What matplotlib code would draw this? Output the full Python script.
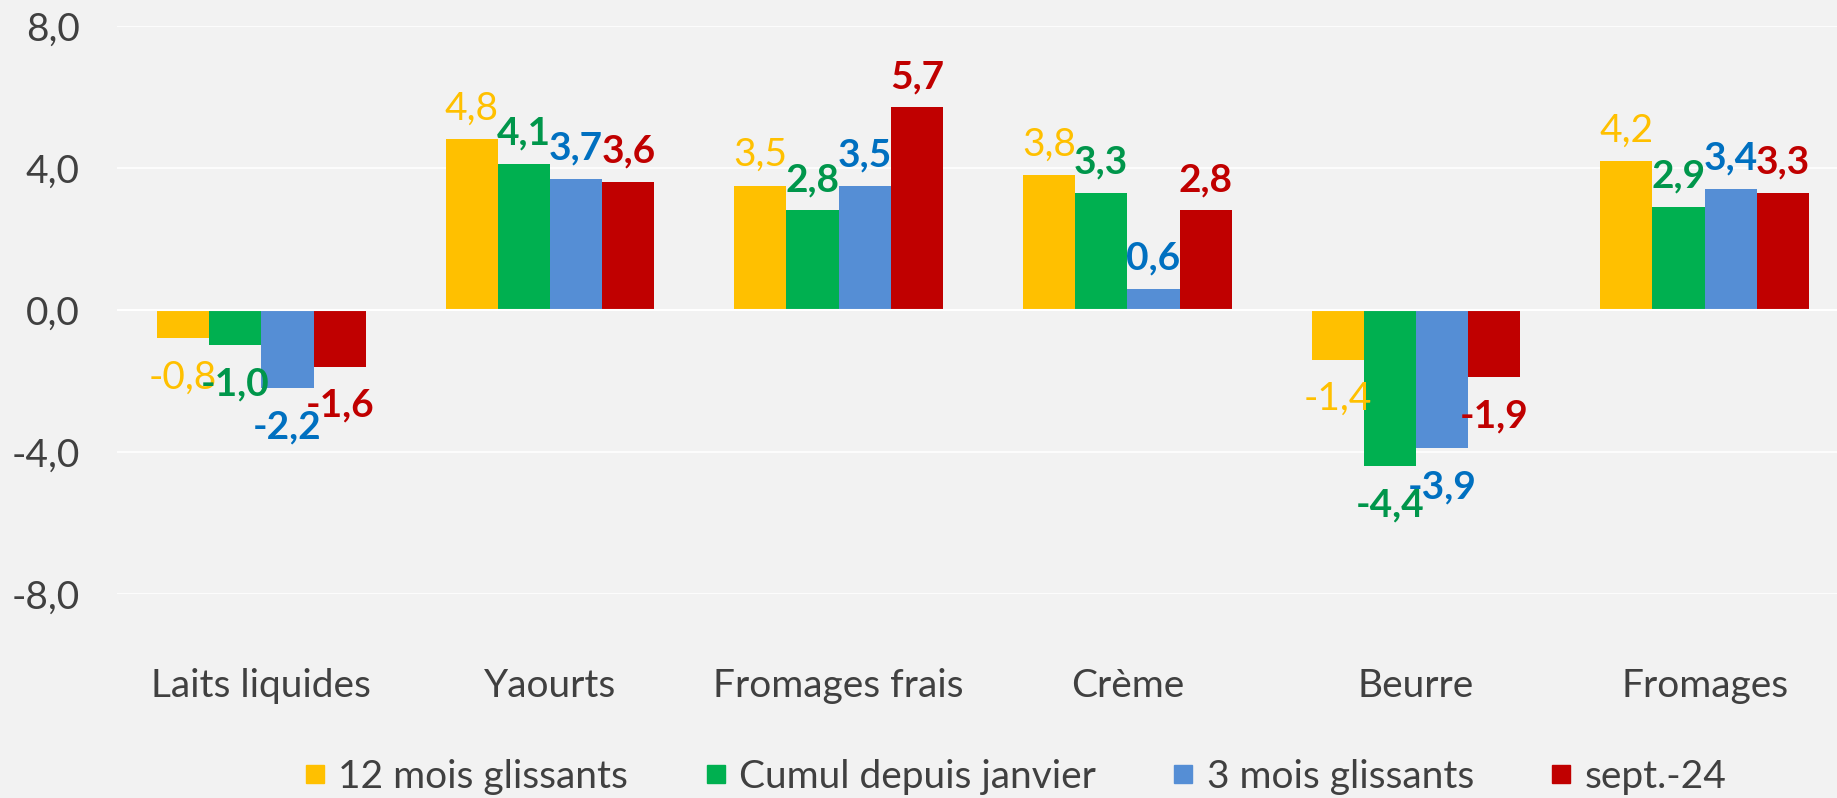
import matplotlib
matplotlib.use("Agg")
import matplotlib.pyplot as plt
import numpy as np
from matplotlib.lines import Line2D

categories = ["Laits liquides", "Yaourts", "Fromages frais", "Crème", "Beurre", "Fromages"]
series_names = ["12 mois glissants", "Cumul depuis janvier", "3 mois glissants", "sept.-24"]
v_12m = [-0.8, 4.8, 3.5, 3.8, -1.4, 4.2]
v_cumul = [-1.0, 4.1, 2.8, 3.3, -4.4, 2.9]
v_3m = [-2.2, 3.7, 3.5, 0.6, -3.9, 3.4]
v_sept = [-1.6, 3.6, 5.7, 2.8, -1.9, 3.3]
yticks = [-8.0, -4.0, 0.0, 4.0, 8.0]

series = [v_12m, v_cumul, v_3m, v_sept]
bar_colors = ["#FFC000", "#00B050", "#558ED5", "#C00000"]
label_colors = ["#FFC000", "#00964B", "#0070C0", "#C00000"]
label_weights = ["normal", "bold", "bold", "bold"]

plt.rcParams['font.family'] = ['Lato', 'DejaVu Sans']
BG = "#F2F2F2"
TXT = "#404040"
FS = 28

W, H = 1837, 798
fig = plt.figure(figsize=(W / 100, H / 100), dpi=100, facecolor=BG)
left = 117 / W
width = 1732 / W
bottom = 1 - 594 / H
top = 1 - 25.8 / H
ax = fig.add_axes([left, bottom, width, top - bottom], facecolor=BG)

x = np.arange(len(categories))
bw = 0.181
for i, (vals, c) in enumerate(zip(series, bar_colors)):
    xs = x + (i - 1.5) * bw
    ax.bar(xs, vals, width=bw, color=c, zorder=3)
    for xx, v in zip(xs, vals):
        txt = f"{v:.1f}".replace(".", ",")
        off = 14 if v >= 0 else -36
        ax.annotate(txt, (xx, v), xytext=(0, off), textcoords="offset points",
                    ha="center", va="baseline",
                    fontsize=FS, color=label_colors[i], fontweight=label_weights[i],
                    zorder=5)

ax.set_xlim(-0.5, len(categories) - 0.5)
ax.set_ylim(-8, 8)
ax.set_yticks(yticks)
ax.set_yticklabels([f"{t:.1f}".replace(".", ",") for t in yticks])
ax.set_xticks(x)
ax.set_xticklabels(categories)
ax.tick_params(axis="y", length=0, labelsize=FS, labelcolor=TXT, pad=27)
ax.tick_params(axis="x", length=0, labelsize=FS, labelcolor=TXT, pad=53)
ax.grid(axis="y", color="#FFFFFF", linewidth=1.2, zorder=0)
ax.axhline(0, color="#FFFFFF", linewidth=1.5, zorder=4)
for s in ax.spines.values():
    s.set_visible(False)

handles = [Line2D([0], [0], marker="s", linestyle="none", markersize=13,
                  markerfacecolor=c, markeredgecolor=c) for c in bar_colors]
fig.legend(handles, series_names, loc="center", bbox_to_anchor=(0.5525, 1 - 777 / H),
           ncol=4, frameon=False, labelcolor=TXT,
           prop={"size": FS},
           handletextpad=0.3, columnspacing=1.95, handlelength=0.6)

fig.savefig("out.png", dpi=100, facecolor=BG)
